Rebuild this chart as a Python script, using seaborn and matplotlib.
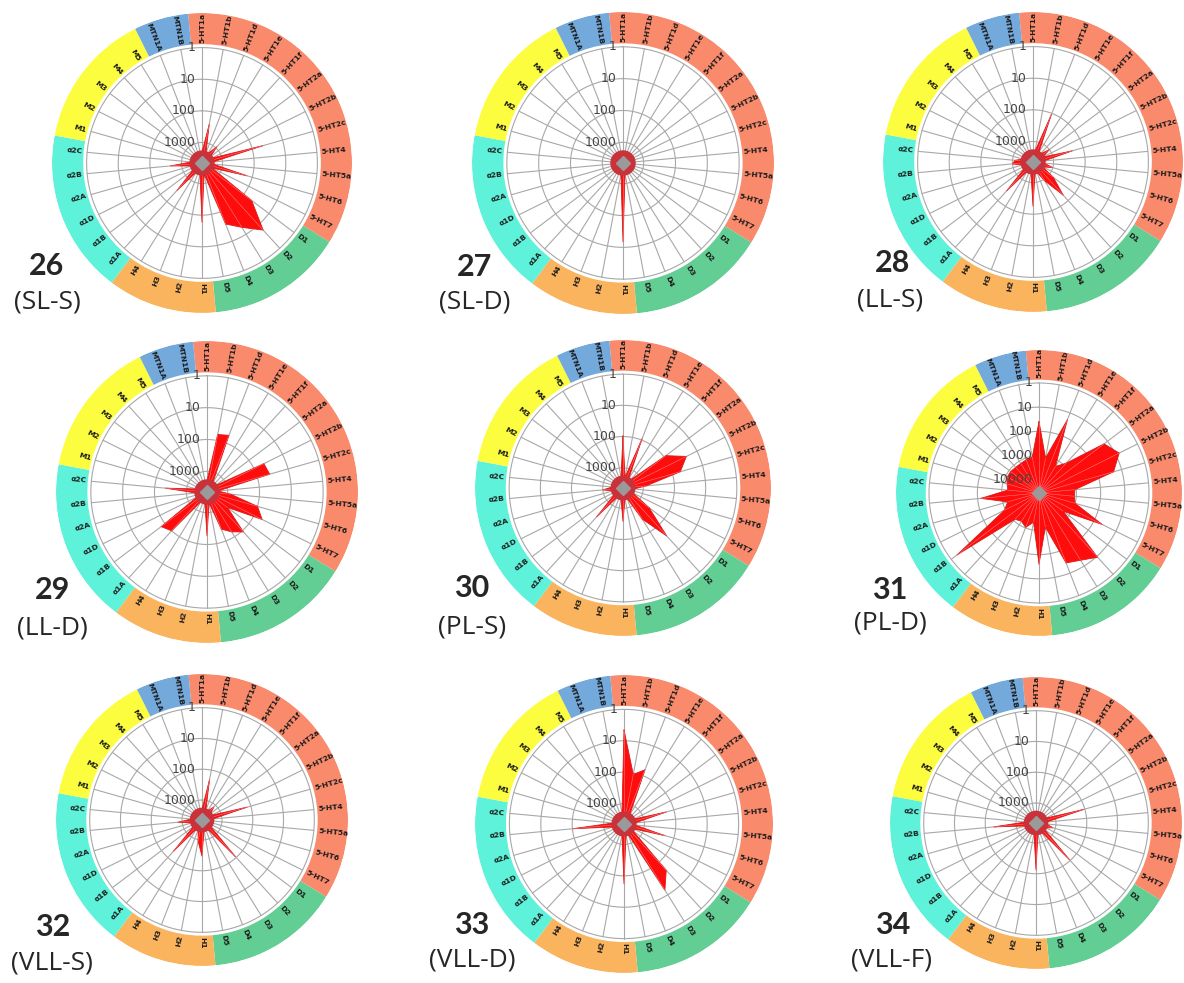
import numpy as np
import matplotlib
matplotlib.use("Agg")
import matplotlib.pyplot as plt
import seaborn as sns

sns.set_style("white")
plt.rcParams['font.family'] = ['DejaVu Sans']

# receptor panel, clockwise from the top
receptors = ["5-HT1a", "5-HT1b", "5-HT1d", "5-HT1e", "5-HT1f", "5-HT2a", "5-HT2b",
             "5-HT2c", "5-HT4", "5-HT5a", "5-HT6", "5-HT7",
             "D1", "D2", "D3", "D4", "D5",
             "H1", "H2", "H3", "H4",
             "α1A", "α1B", "α1D", "α2A", "α2B", "α2C",
             "M1", "M2", "M3", "M4", "M5",
             "MTN1A", "MTN1B"]
group_sizes = [12, 5, 4, 6, 5, 2]
group_colors = ["#f98a6c", "#62ce93", "#fbb45e", "#5ef2da", "#fdfd40", "#74a9dc"]

compound_ids = ["26", "27", "28", "29", "30", "31", "32", "33", "34"]
compound_names = ["(SL-S)", "(SL-D)", "(LL-S)", "(LL-D)", "(PL-S)", "(PL-D)",
                  "(VLL-S)", "(VLL-D)", "(VLL-F)"]

# Ki values (nM); F = no measurable affinity (drawn at the inner blob)
F = 2000
ki_26 = [F, 260, F, F, 900, F, F, 45, F, F, 150, F, 48, 6, 18, 38, F,
         60, F, F, F, 300, F, F, F, 450, F, F, F, F, F, F, F, F]
ki_27 = [F, F, F, F, F, F, F, F, F, F, F, F, F, F, F, F, F,
         15, F, F, F, F, F, F, F, F, F, F, F, F, F, F, F, F]
ki_28 = [F, F, 110, F, F, 1000, F, 230, F, F, 1000, F, 700, 170, 900, F, F,
         180, F, F, F, 260, F, F, F, 1000, 1200, F, F, F, F, F, F, F]
ki_29 = [F, 65, 55, F, F, F, 45, 40, F, 800, 100, 52, 700, 90, 150, 250, F,
         190, F, F, F, 100, 70, F, F, F, 220, F, F, F, F, F, F, F]
ki_30 = [95, F, 90, F, F, 85, 24, 55, 800, F, F, F, 400, 37, 300, F, F,
         380, F, F, F, 250, F, F, F, 1000, F, F, F, F, F, F, F, F]
ki_31 = [39, 1200, 20, 1800, 760, 15, 7, 22, 1150, 1200, 1000, 43, 2000, 9, 19, 28, 1300,
         40, 2100, 1050, 1500, 1200, 2, 900, 1600, 135, 1800,
         1500, 1200, 1200, 1300, 1300, 1200, 1100]
ki_32 = [F, 210, F, F, 1200, F, F, 135, F, F, F, F, F, 110, F, F, F,
         300, 900, F, F, 190, F, F, F, 740, F, F, F, F, F, F, F, F]
ki_33 = [4.5, 110, 63, F, F, F, F, 180, F, F, 200, F, F, 45, 15, F, F,
         56, F, F, F, F, F, F, F, 105, F, F, F, F, F, F, F, F]
ki_34 = [F, F, F, F, F, F, F, 110, F, F, 1200, F, F, 110, F, F, F,
         135, F, F, F, F, F, F, F, 190, F, F, F, F, F, F, F, F]
all_ki = [ki_26, ki_27, ki_28, ki_29, ki_30, ki_31, ki_32, ki_33, ki_34]

# layout (pixels in the 1184x983 picture)
W, H = 1184, 983
centers = [(202, 163), (623, 163), (1033, 162), (207, 492), (623, 488), (1039, 493),
           (202, 820), (624, 824), (1036, 823)]
radii_px = [150, 151, 150, 151, 148, 143, 146, 149, 146]
id_xy = [(47, 266), (475, 267), (893, 263), (53, 590), (472, 588), (890, 590),
         (53, 927), (472, 925), (893, 925)]
name_xy = [(47, 302), (475, 302), (890, 300), (52, 628), (472, 627), (890, 623),
           (52, 963), (472, 960), (892, 960)]

N = len(receptors)
step = 2 * np.pi / N
theta = np.arange(N) * step


def draw_radar(ax, ki, top_exp, n_rings, blob):
    rg = top_exp
    ring_in = rg * 1.03
    rmax = rg * 1.30
    ax.set_theta_zero_location('N')
    ax.set_theta_direction(-1)
    ax.set_ylim(0, rmax)
    ax.axis('off')

    # coloured receptor-family ring
    start = 0
    for n, c in zip(group_sizes, group_colors):
        mid = (start + (n - 1) / 2) * step
        ax.bar(mid, rmax - ring_in, width=n * step, bottom=ring_in, color=c,
               edgecolor='none', zorder=1)
        start += n
    for i, name in enumerate(receptors):
        ang = np.degrees(theta[i])
        if ang <= 180:
            rot, ha = 90 - ang, 'left'
        else:
            rot, ha = 270 - ang, 'right'
        ax.text(theta[i], ring_in + 0.012 * rg, name, rotation=rot, rotation_mode='anchor',
                ha=ha, va='center', fontsize=5.4, fontweight='bold', color='#1c1c1c', zorder=2)

    # grid
    circ = np.linspace(0, 2 * np.pi, 300)
    for k in range(n_rings + 1):
        ax.plot(circ, np.full_like(circ, rg - k), color='#a8a8a8', lw=0.8, zorder=2)
    for t in theta:
        ax.plot([t, t], [0, rg], color='#a8a8a8', lw=0.8, zorder=2)
    for k in range(n_rings + 1):
        ax.annotate(str(10 ** k), xy=(0, rg - k), xytext=(-5, 0), textcoords='offset points',
                    ha='right', va='center', fontsize=9, color='#444444', zorder=8)

    # affinity polygon
    r = top_exp - np.log10(np.array(ki, dtype=float))
    tc = np.append(theta, 2 * np.pi)
    rc = np.append(r, r[0])
    ax.fill(tc, rc, color='#ff0d0d', lw=0, zorder=3)
    sns.lineplot(x=tc, y=rc, ax=ax, sort=False, estimator=None, color='#d81a1a',
                 lw=0.6, zorder=4)
    for t, rr in zip(theta, r):
        ax.plot([t, t], [0, rr], color='#ff7a7a', lw=0.4, zorder=4)
    if blob:
        ax.fill(circ, np.full_like(circ, blob), color='#c9323b', lw=0, zorder=5)
    ax.plot([0], [0], marker='D', ms=7, color='#9a9a9a', zorder=6)
    ax.set_xlabel('')
    ax.set_ylabel('')


fig = plt.figure(figsize=(W / 100, H / 100), dpi=100)
for i in range(9):
    cx, cy = centers[i]
    R = radii_px[i]
    ax = fig.add_axes([(cx - R) / W, 1 - (cy + R) / H, 2 * R / W, 2 * R / H],
                      projection='polar')
    if compound_ids[i] == "31":
        draw_radar(ax, all_ki[i], 4.55, 4, None)
    else:
        draw_radar(ax, all_ki[i], 3.65, 3, 0.40)
    fig.text(id_xy[i][0] / W, 1 - id_xy[i][1] / H, compound_ids[i], fontsize=22,
             fontweight='bold', ha='center', va='center', family=['Lato', 'DejaVu Sans'])
    fig.text(name_xy[i][0] / W, 1 - name_xy[i][1] / H, compound_names[i], fontsize=19,
             ha='center', va='center', family=['Open Sans', 'DejaVu Sans'])

fig.savefig("out.png", dpi=100)
